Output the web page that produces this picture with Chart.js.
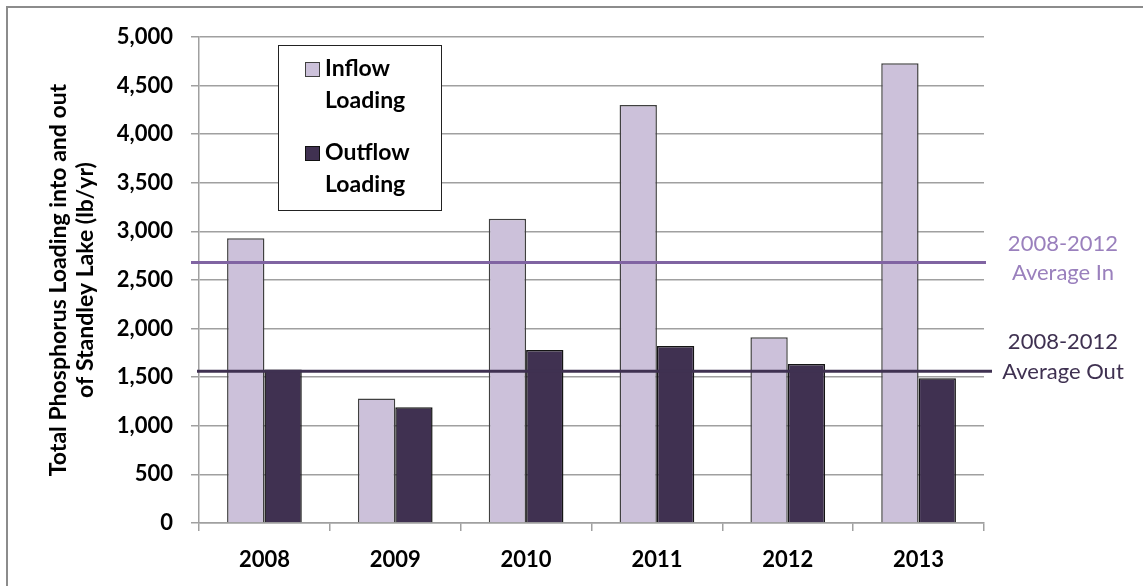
<!DOCTYPE html>
<html>
<head>
<meta charset="utf-8">
<script src="https://cdn.jsdelivr.net/npm/chart.js@4"></script>
<style>
  html, body { margin: 0; padding: 0; background: #fff; }
  #wrap { width: 1143px; height: 586px; position: relative; }
</style>
</head>
<body>
<div id="wrap"><canvas id="loadChart"></canvas></div>
<script>
// 연도별 유입/유출 인 부하량 (lb/yr)
const years = ['2008', '2009', '2010', '2011', '2012', '2013'];
const inflow = [2930, 1280, 3130, 4300, 1910, 4730];
const outflow = [1580, 1190, 1780, 1820, 1635, 1490];

// 2008-2012 평균선
const avgIn = 2680;
const avgOut = 1560;

// Y축 범위와 눈금
const yMin = 0;
const yMax = 5000;
const yStep = 500;

const FONT = 'Lato, "Open Sans", sans-serif';
const COLOR_IN = '#ccc1da';
const COLOR_OUT = '#403151';
const COLOR_AVG_IN = '#8064a2';
const COLOR_AVG_OUT = '#3f3151';

// 바깥 테두리 (왼쪽, 위쪽)
const framePlugin = {
    id: 'frame',
    beforeDraw(chart) {
        const ctx = chart.ctx;
        ctx.save();
        ctx.fillStyle = '#fff';
        ctx.fillRect(0, 0, chart.width, chart.height);
        ctx.strokeStyle = '#8c8c8c';
        ctx.lineWidth = 2;
        ctx.beginPath();
        ctx.moveTo(7, chart.height);
        ctx.lineTo(7, 7);
        ctx.lineTo(chart.width, 7);
        ctx.stroke();
        ctx.restore();
    }
};

// 평균선 + 오른쪽 라벨 + 범례 상자
const overlayPlugin = {
    id: 'overlay',
    afterDatasetsDraw(chart) {
        const ctx = chart.ctx;
        const y = chart.scales.y;
        const area = chart.chartArea;
        ctx.save();

        // 평균선
        const yIn = y.getPixelForValue(avgIn);
        const yOut = y.getPixelForValue(avgOut);
        ctx.lineWidth = 3;
        ctx.strokeStyle = COLOR_AVG_IN;
        ctx.beginPath();
        ctx.moveTo(area.left - 8, yIn);
        ctx.lineTo(area.right + 2, yIn);
        ctx.stroke();
        ctx.strokeStyle = COLOR_AVG_OUT;
        ctx.beginPath();
        ctx.moveTo(area.left - 2, yOut);
        ctx.lineTo(area.right + 8, yOut);
        ctx.stroke();

        // 평균선 라벨
        ctx.font = '22px ' + FONT;
        ctx.textAlign = 'center';
        ctx.textBaseline = 'middle';
        const labelX = 1063;
        ctx.fillStyle = '#9a80bd';
        ctx.fillText('2008-2012', labelX, yIn - 19);
        ctx.fillText('Average In', labelX, yIn + 10);
        ctx.fillStyle = '#3f3151';
        ctx.fillText('2008-2012', labelX, yOut - 29);
        ctx.fillText('Average Out', labelX, yOut + 1);

        // 범례
        const bx = 278, by = 45, bw = 163, bh = 165;
        ctx.fillStyle = '#fff';
        ctx.fillRect(bx, by, bw, bh);
        ctx.strokeStyle = '#222';
        ctx.lineWidth = 1;
        ctx.strokeRect(bx + 0.5, by + 0.5, bw, bh);

        const items = [
            { fill: COLOR_IN, border: '#404040', lines: ['Inflow', 'Loading'], top: 69 },
            { fill: COLOR_OUT, border: '#111', lines: ['Outflow', 'Loading'], top: 153 }
        ];
        ctx.font = 'bold 23px ' + FONT;
        ctx.textAlign = 'left';
        items.forEach(it => {
            ctx.fillStyle = it.fill;
            ctx.fillRect(305, it.top - 7, 14, 14);
            ctx.strokeStyle = it.border;
            ctx.strokeRect(305.5, it.top - 6.5, 14, 14);
            ctx.fillStyle = '#000';
            ctx.fillText(it.lines[0], 325, it.top);
            ctx.fillText(it.lines[1], 325, it.top + 32);
        });

        ctx.restore();
    }
};

const ctx = document.getElementById('loadChart').getContext('2d');

const data = {
    labels: years,
    datasets: [
        {
            label: 'Inflow Loading',
            data: inflow,
            backgroundColor: COLOR_IN,
            borderColor: '#404040',
            borderWidth: 1.5
        },
        {
            label: 'Outflow Loading',
            data: outflow,
            backgroundColor: COLOR_OUT,
            borderColor: '#141414',
            borderWidth: 1.5
        }
    ]
};

const config = {
    type: 'bar',
    data: data,
    options: {
        responsive: true,
        maintainAspectRatio: false,
        animation: false,
        layout: {
            padding: { top: 37, right: 159, bottom: 0, left: 0 }
        },
        categoryPercentage: 0.571,
        barPercentage: 1.0,
        plugins: {
            legend: { display: false },
            title: { display: false },
            tooltip: { enabled: false }
        },
        scales: {
            x: {
                afterFit(scale) { scale.height = 63; },
                ticks: {
                    color: '#000',
                    padding: 16,
                    font: { family: FONT, size: 22, weight: 'bold' }
                },
                grid: {
                    display: true,
                    drawOnChartArea: false,
                    drawTicks: true,
                    tickLength: 8,
                    color: '#a0a0a0',
                    lineWidth: 1.5
                },
                border: { display: true, color: '#a0a0a0', width: 1.5 }
            },
            y: {
                min: yMin,
                max: yMax,
                afterFit(scale) { scale.width = 199; },
                ticks: {
                    stepSize: yStep,
                    color: '#000',
                    padding: 18,
                    font: { family: FONT, size: 22, weight: 'bold' },
                    callback: v => v.toLocaleString('en-US')
                },
                title: {
                    display: true,
                    text: ['Total Phosphorus Loading into and out', 'of Standley Lake (lb/yr)'],
                    color: '#000',
                    font: { family: FONT, size: 23, weight: 'bold', lineHeight: 1.17 },
                    padding: { top: 45, bottom: 0 }
                },
                grid: {
                    color: '#a0a0a0',
                    lineWidth: 1.5,
                    tickLength: 8
                },
                border: { display: true, color: '#a0a0a0', width: 1.5 }
            }
        }
    },
    plugins: [framePlugin, overlayPlugin]
};

const loadChart = new Chart(ctx, config);
</script>
</body>
</html>
